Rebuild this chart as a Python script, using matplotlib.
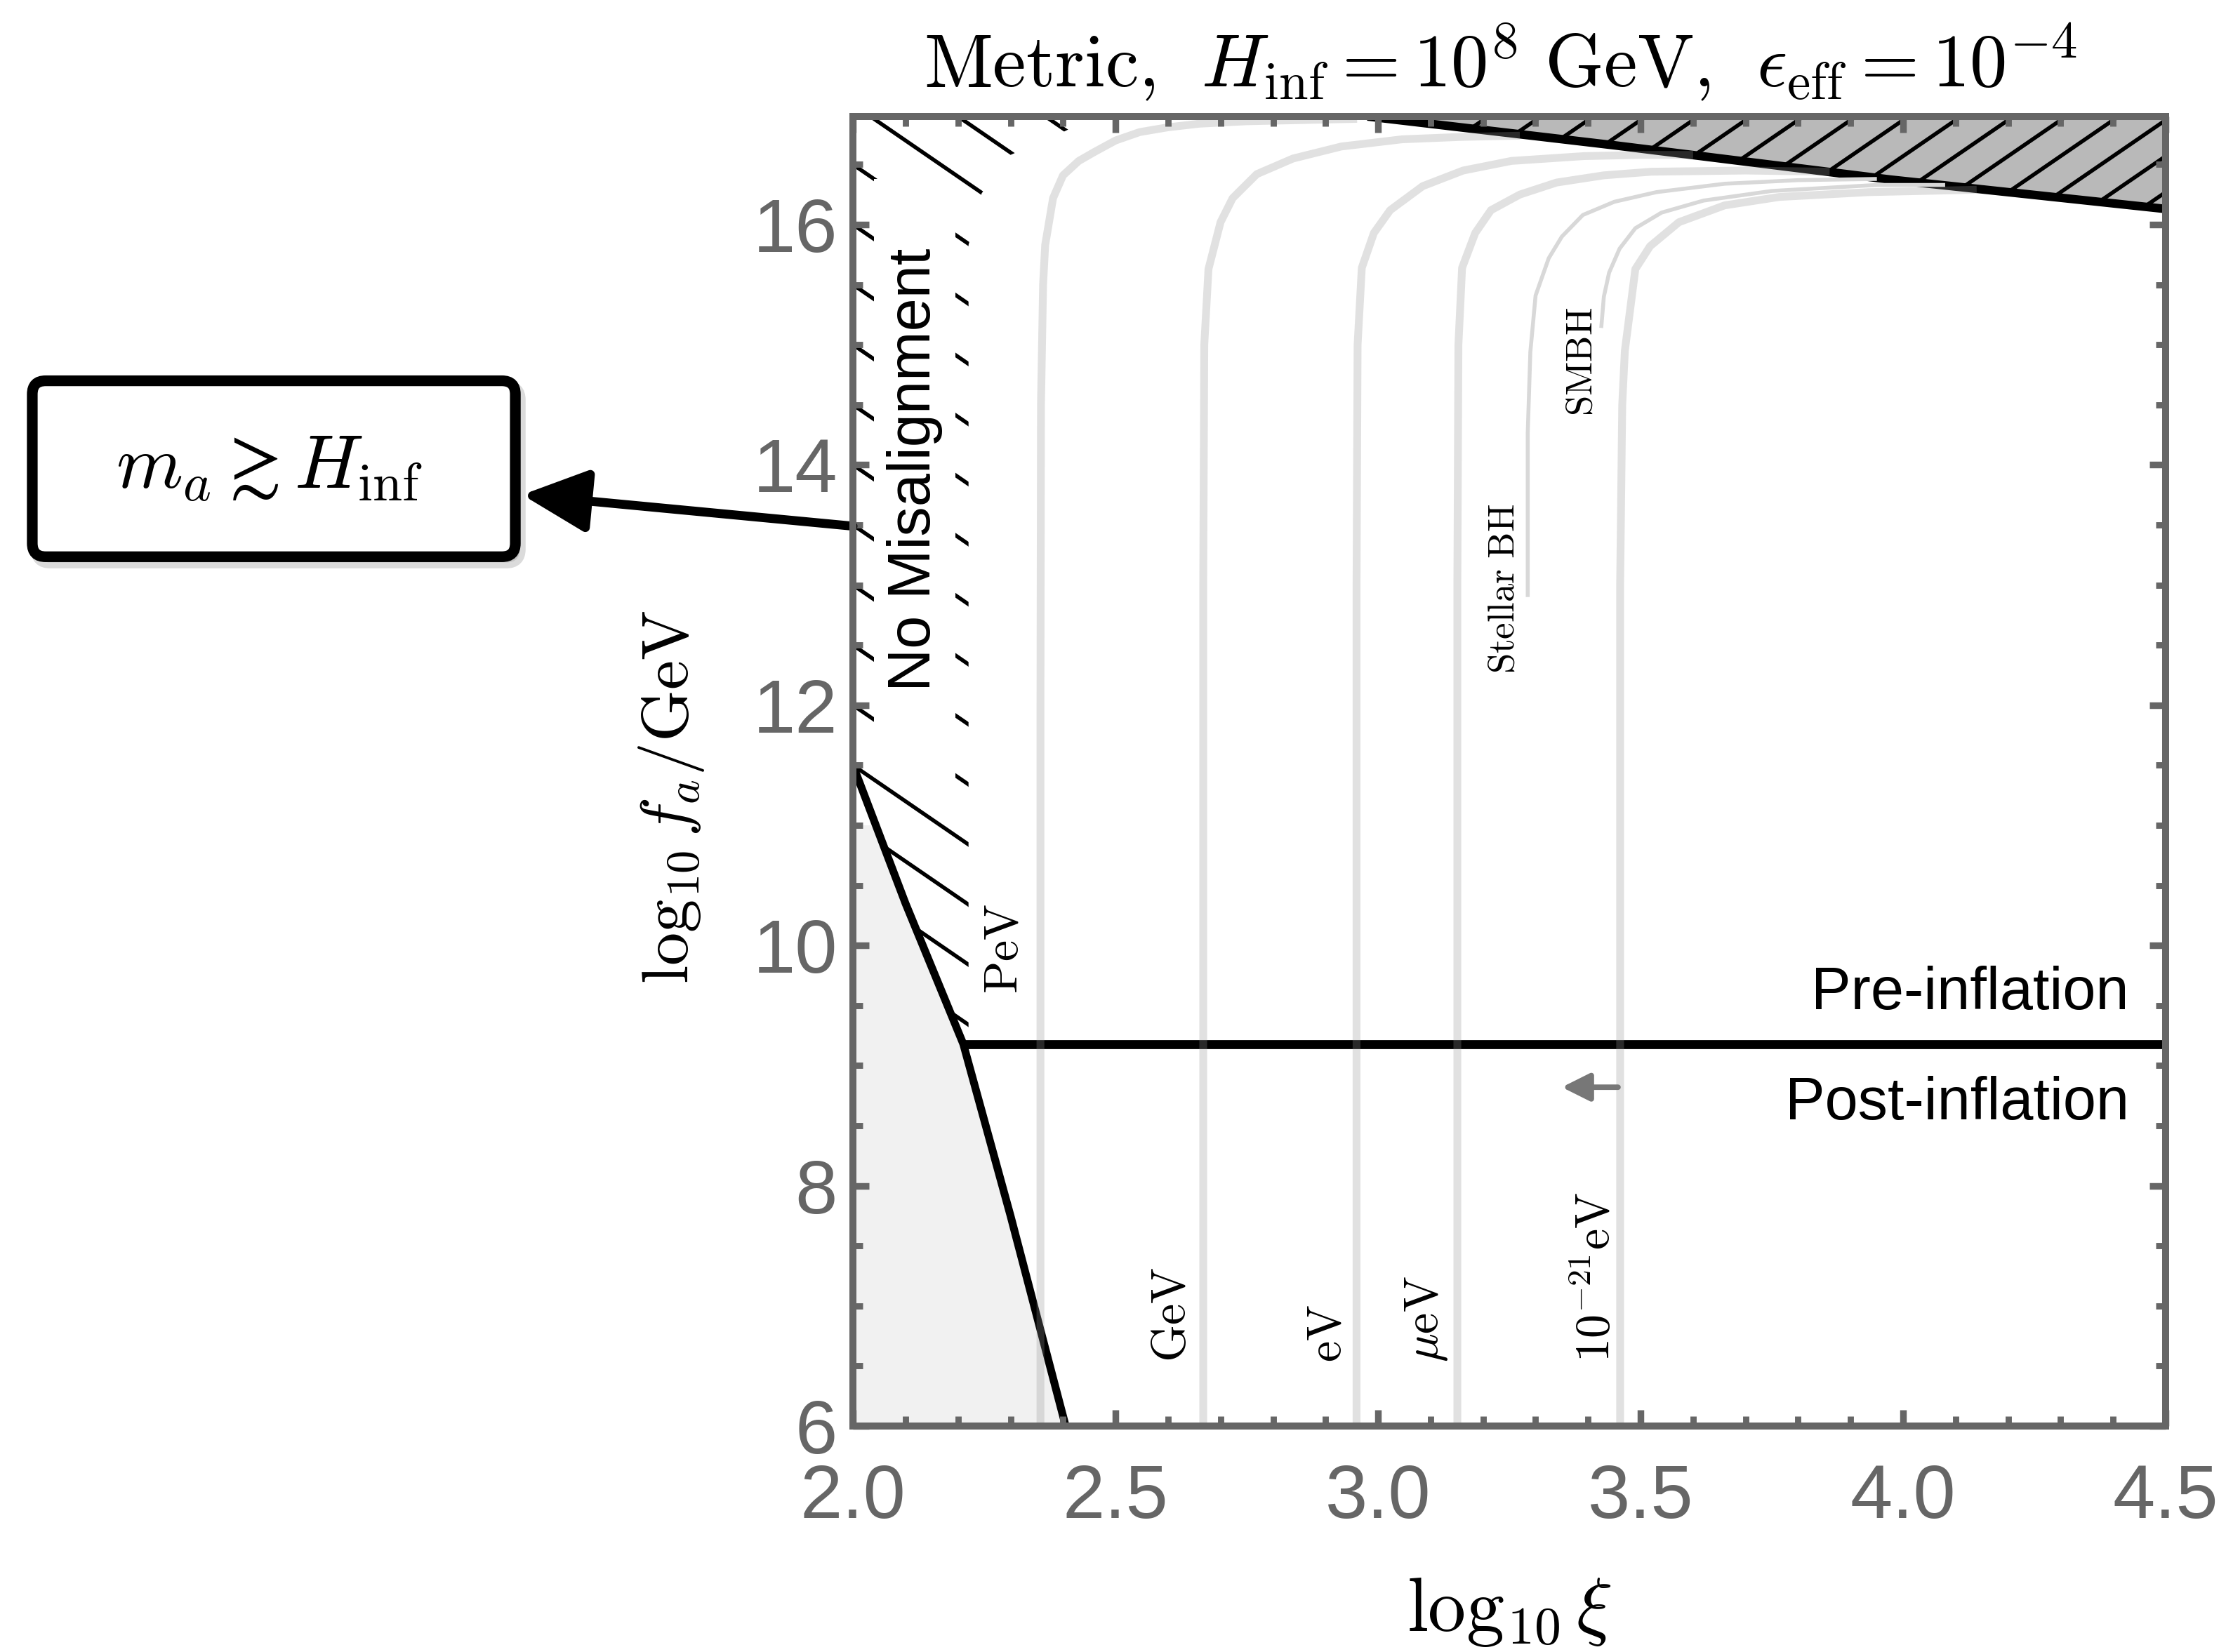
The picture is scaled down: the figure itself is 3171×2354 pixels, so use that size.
import numpy as np
import matplotlib.pyplot as plt
from matplotlib.patches import Polygon, Rectangle, FancyBboxPatch
from matplotlib.ticker import MultipleLocator, FormatStrFormatter

plt.rcParams['mathtext.fontset'] = 'cm'
plt.rcParams['font.family'] = ['Liberation Sans', 'DejaVu Sans']

AXC = '#666666'

# lower-left boundary (m_a ~ H_inf line)
edge_x = [2.0, 2.1, 2.21, 2.3, 2.405]
edge_y = [11.5, 10.35, 9.18, 7.75, 6.0]
fill_x = [2.0, 2.04, 2.1, 2.21, 2.3, 2.405]
fill_y = [11.0, 11.0, 10.35, 9.18, 7.75, 6.0]

# pre / post inflation divide
pre_y = 9.18
pre_x = [2.21, 4.5]

# upper-right excluded region
top_x = [2.98, 3.45, 3.975, 4.5]
top_y = [16.9, 16.66, 16.375, 16.13]

# right edge of the hatched "no misalignment" region
nomis_x = [2.22, 2.22, 2.245, 2.30, 2.40, 2.46]
nomis_y = [9.18, 15.83, 16.26, 16.58, 16.77, 16.9]

# mass contours (grey)
pev_x = [2.357, 2.357, 2.358, 2.362, 2.366, 2.381, 2.40, 2.43, 2.462, 2.50, 2.546, 2.60, 2.66, 2.75, 2.854, 2.96]
pev_y = [6.0, 12.0, 14.5, 15.5, 15.83, 16.22, 16.41, 16.53, 16.61, 16.70, 16.77, 16.81, 16.84, 16.86, 16.87, 16.88]
gev_x = [2.667, 2.667, 2.669, 2.677, 2.70, 2.723, 2.769, 2.838, 2.93, 3.046, 3.16, 3.27]
gev_y = [6.0, 13.0, 15.0, 15.63, 16.02, 16.22, 16.42, 16.55, 16.65, 16.71, 16.73, 16.74]
ev_x = [2.959, 2.959, 2.961, 2.969, 2.992, 3.023, 3.085, 3.162, 3.254, 3.392, 3.50, 3.60]
ev_y = [6.0, 13.0, 15.0, 15.64, 15.93, 16.12, 16.32, 16.45, 16.53, 16.57, 16.58, 16.58]
uev_x = [3.151, 3.151, 3.153, 3.16, 3.185, 3.215, 3.27, 3.34, 3.43, 3.52, 3.70, 3.86]
uev_y = [6.0, 13.0, 15.0, 15.64, 15.93, 16.12, 16.25, 16.35, 16.41, 16.44, 16.45, 16.44]
fuzzy_x = [3.461, 3.461, 3.465, 3.47, 3.49, 3.518, 3.573, 3.66, 3.764, 3.934, 4.14]
fuzzy_y = [6.0, 13.0, 14.5, 14.95, 15.63, 15.82, 16.02, 16.16, 16.23, 16.27, 16.29]

# black hole superradiance contours (thin)
sbh_x = [3.285, 3.285, 3.29, 3.30, 3.325, 3.35, 3.39, 3.45, 3.53, 3.66, 3.80, 3.95]
sbh_y = [12.9, 14.26, 14.94, 15.41, 15.72, 15.90, 16.08, 16.19, 16.27, 16.34, 16.37, 16.38]
smbh_x = [3.425, 3.43, 3.44, 3.46, 3.49, 3.54, 3.62, 3.75, 3.95, 4.08]
smbh_y = [15.14, 15.4, 15.6, 15.8, 15.97, 16.1, 16.2, 16.28, 16.33, 16.33]

fig = plt.figure(figsize=(15.855, 11.77), dpi=200)
ax = fig.add_axes([0.3832, 0.1368, 0.5897, 0.7927])
ax.set_xlim(2.0, 4.5)
ax.set_ylim(6.0, 16.9)

# light grey region bottom left
ax.fill(fill_x + [2.0], fill_y + [6.0], color='#f1f1f1', lw=0, zorder=1)

# hatched no-misalignment region
left_verts = list(zip(edge_x[:3], edge_y[:3])) + list(zip(nomis_x, nomis_y)) + [(2.0, 16.9)]
left_clip = Polygon(left_verts, closed=True, fc='none', ec='none', transform=ax.transData)
ax.add_patch(left_clip)
hx = np.array([1.9, 2.7])
for c in np.arange(9.5, 19.0, 0.5):
    ln, = ax.plot(hx, c - 3.0 * (hx - 2.0), color='black', lw=2.0, zorder=2.0,
                  solid_capstyle='butt')
    ln.set_clip_path(left_clip)
ax.add_patch(Rectangle((2.04, 11.40), 0.155, 4.98, fc='white', ec='none', zorder=2.05))

# hatched upper-right region
top_verts = list(zip(top_x, top_y)) + [(4.5, 16.9)]
ax.fill([v[0] for v in top_verts], [v[1] for v in top_verts], color='#b9b9b9', lw=0, zorder=1)
top_clip = Polygon(top_verts, closed=True, fc='none', ec='none', transform=ax.transData)
ax.add_patch(top_clip)
for xk in np.arange(2.91, 4.9, 0.1):
    tx = np.array([xk - 0.5, xk + 0.1])
    ln, = ax.plot(tx, 16.9 + 3.0 * (tx - xk), color='black', lw=2.0, zorder=2.0,
                  solid_capstyle='butt')
    ln.set_clip_path(top_clip)

# black boundaries
ax.plot(edge_x, edge_y, color='black', lw=4.0, zorder=2.2, solid_capstyle='butt')
ax.plot(pre_x, [pre_y, pre_y], color='black', lw=4.6, zorder=2.2, solid_capstyle='butt')
ax.plot(top_x, top_y, color='black', lw=4.4, zorder=2.2, solid_capstyle='butt')

# grey contours (drawn translucent so the black line shows through)
for cx, cy in [(pev_x, pev_y), (gev_x, gev_y), (ev_x, ev_y), (uev_x, uev_y), (fuzzy_x, fuzzy_y)]:
    ax.plot(cx, cy, color='#959595', alpha=0.28, lw=4.0, zorder=2.3, solid_capstyle='butt')
for cx, cy in [(sbh_x, sbh_y), (smbh_x, smbh_y)]:
    ax.plot(cx, cy, color='#d8d8d8', lw=2.0, zorder=2.3, solid_capstyle='butt')

# labels inside
mkw = dict(rotation=90, ha='center', va='bottom', fontsize=24.5, color='black', zorder=4)
ax.text(2.29, 9.6, r'${\rm PeV}$', **mkw)
ax.text(2.608, 6.53, r'${\rm GeV}$', **mkw)
ax.text(2.905, 6.53, r'${\rm eV}$', **mkw)
ax.text(3.092, 6.53, r'$\mu{\rm eV}$', **mkw)
ax.text(3.417, 6.53, r'$10^{-21}{\rm eV}$', **mkw)
ax.text(3.24, 12.97, r'${\rm Stellar\ BH}$', rotation=90, ha='center', va='center',
        fontsize=19, zorder=4)
ax.text(3.389, 14.86, r'${\rm SMBH}$', rotation=90, ha='center', va='center',
        fontsize=19, zorder=4)
ax.text(2.118, 13.96, 'No Misalignment', rotation=90, ha='center', va='center',
        fontsize=30.5, zorder=4)
ax.text(4.43, 9.6, 'Pre-inflation', ha='right', va='center', fontsize=30.5, zorder=4)
ax.text(4.43, 8.68, 'Post-inflation', ha='right', va='center', fontsize=30.5, zorder=4)
ax.annotate('', xy=(3.35, 8.82), xytext=(3.457, 8.82),
            arrowprops=dict(arrowstyle='-|>', color='#777777', lw=2.8,
                            mutation_scale=30, shrinkA=0, shrinkB=0), zorder=4)

# axes styling
for sp in ax.spines.values():
    sp.set_linewidth(3.6)
    sp.set_color(AXC)
    sp.set_zorder(5)
ax.xaxis.set_major_locator(MultipleLocator(0.5))
ax.xaxis.set_minor_locator(MultipleLocator(0.1))
ax.yaxis.set_major_locator(MultipleLocator(2))
ax.yaxis.set_minor_locator(MultipleLocator(0.5))
ax.xaxis.set_major_formatter(FormatStrFormatter('%.1f'))
ax.tick_params(which='both', direction='in', top=True, right=True, color=AXC,
               labelcolor=AXC, labelsize=39)
ax.tick_params(which='major', length=8.3, width=3.4)
ax.tick_params(which='minor', length=5.0, width=3.2)
ax.tick_params(axis='x', pad=19)
ax.tick_params(axis='y', pad=8)
ax.set_axisbelow(False)

ax.set_xlabel(r'$\log_{10}\xi$', fontsize=39)
ax.xaxis.set_label_coords(0.5, -0.114)
ax.set_ylabel(r'$\log_{10} f_a/{\rm GeV}$', fontsize=34)
ax.yaxis.set_label_coords(-0.112, 0.48)

fig.text(0.674, 0.9475,
         r'${\rm Metric,}\;\, H_{\rm inf} = 10^8\ {\rm GeV},\;\, \epsilon_{\rm eff} = 10^{-4}$',
         ha='center', va='baseline', fontsize=38.5)

# callout box on the left
asp = 3171 / 2354
shadow = FancyBboxPatch((0.0165, 0.6595), 0.2170, 0.1065,
                        boxstyle='round,pad=0,rounding_size=0.006', mutation_aspect=asp,
                        transform=fig.transFigure, fc='#9a9a9a', ec='#9a9a9a', lw=6,
                        alpha=0.35, zorder=1)
box = FancyBboxPatch((0.0145, 0.6630), 0.2170, 0.1065,
                     boxstyle='round,pad=0,rounding_size=0.006', mutation_aspect=asp,
                     transform=fig.transFigure, fc='white', ec='black', lw=5.5, zorder=2)
fig.patches.extend([shadow, box])
fig.text(0.121, 0.7165, r'$m_a \gtrsim H_{\rm inf}$', ha='center', va='center',
         fontsize=39, zorder=3)
ax.annotate('', xy=(0.2346, 0.7005), xycoords='figure fraction',
            xytext=(2.0, 13.49), textcoords='data', annotation_clip=False,
            arrowprops=dict(arrowstyle='-|>,head_length=0.75,head_width=0.36',
                            mutation_scale=38, lw=4.6, color='black',
                            shrinkA=0, shrinkB=0))

fig.savefig('out.png', dpi=200)
